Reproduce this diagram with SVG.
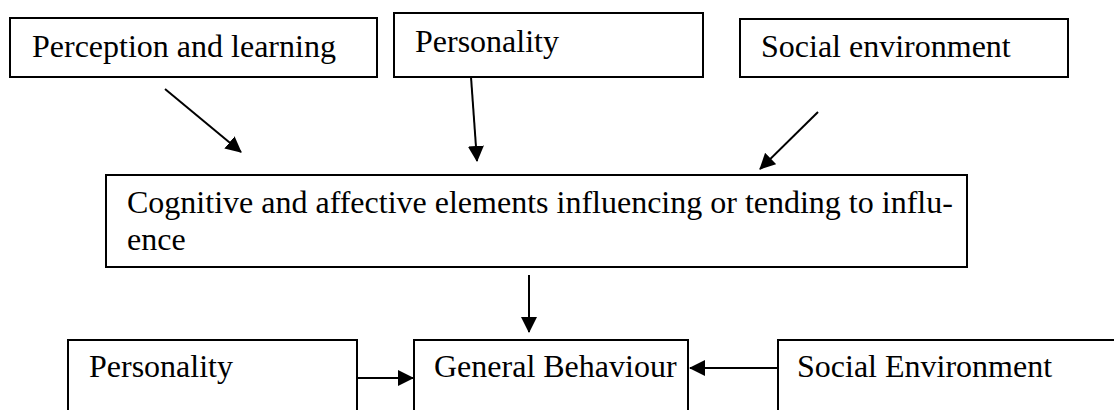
<svg xmlns="http://www.w3.org/2000/svg" width="1114" height="410" viewBox="0 0 1114 410">
<style>
.box{fill:#fff;stroke:#000;stroke-width:2}
.t{font-family:"Liberation Serif","Times New Roman",serif;font-size:32px;fill:#000}
.c{stroke:#000;stroke-width:2;fill:none}
</style>
<defs>
<marker id="ah" markerUnits="userSpaceOnUse" markerWidth="16" markerHeight="16" viewBox="0 0 16 16" refX="15" refY="8" orient="auto">
<path d="M0,0 L16,8 L0,16 Z" fill="#000"/>
</marker>
</defs>
<rect width="1114" height="410" fill="#fff"/>
<g id="n1"><rect class="box" x="10" y="18" width="367" height="59"/><text class="t" x="32" y="57">Perception and learning</text></g>
<g id="n2"><rect class="box" x="394" y="13" width="309" height="64"/><text class="t" x="415" y="52">Personality</text></g>
<g id="n3"><rect class="box" x="740" y="19" width="328" height="58"/><text class="t" x="761" y="57">Social environment</text></g>
<g id="n4"><rect class="box" x="106" y="175" width="861" height="92"/><text class="t" x="127" y="213">Cognitive and affective elements influencing or tending to influ-</text><text class="t" x="127" y="250">ence</text></g>
<g id="n5"><rect class="box" x="68" y="340" width="289" height="80"/><text class="t" x="89" y="377">Personality</text></g>
<g id="n6"><rect class="box" x="414" y="340" width="274" height="80"/><text class="t" x="434" y="377">General Behaviour</text></g>
<g id="n7"><rect class="box" x="778" y="340" width="350" height="80"/><text class="t" x="797" y="377">Social Environment</text></g>
<g id="connectors">
<line class="c" x1="165" y1="89" x2="241" y2="152" marker-end="url(#ah)"/>
<line class="c" x1="471" y1="77" x2="477" y2="161" marker-end="url(#ah)"/>
<line class="c" x1="818" y1="112" x2="760" y2="169" marker-end="url(#ah)"/>
<line class="c" x1="529" y1="275" x2="529" y2="332" marker-end="url(#ah)"/>
<line class="c" x1="357" y1="378" x2="413" y2="378" marker-end="url(#ah)"/>
<line class="c" x1="778" y1="368" x2="690" y2="368" marker-end="url(#ah)"/>
</g>
</svg>
